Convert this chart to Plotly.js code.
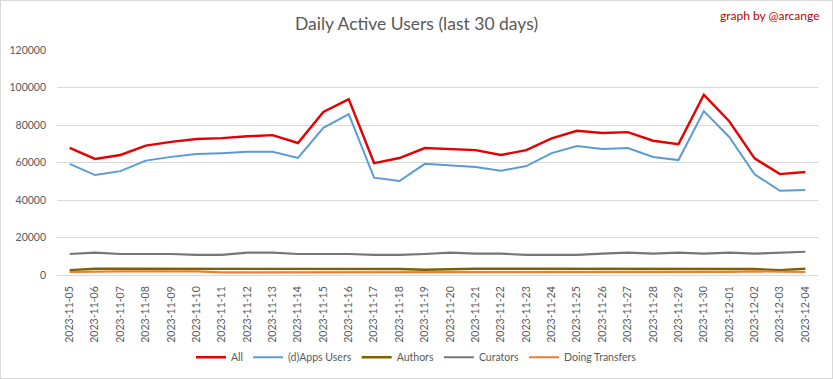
<!DOCTYPE html>
<html>
<head>
<meta charset="utf-8">
<script src="https://cdn.plot.ly/plotly-3.0.1.min.js"></script>
<style>
html,body{margin:0;padding:0;background:#fff;}
#chart{width:833px;height:379px;box-sizing:border-box;border:1px solid #d9d9d9;}
</style>
</head>
<body>
<div id="chart"></div>
<script>
const dates = ["2023-11-05","2023-11-06","2023-11-07","2023-11-08","2023-11-09","2023-11-10","2023-11-11","2023-11-12","2023-11-13","2023-11-14","2023-11-15","2023-11-16","2023-11-17","2023-11-18","2023-11-19","2023-11-20","2023-11-21","2023-11-22","2023-11-23","2023-11-24","2023-11-25","2023-11-26","2023-11-27","2023-11-28","2023-11-29","2023-11-30","2023-12-01","2023-12-02","2023-12-03","2023-12-04"];
const allUsers = [67800,61900,64000,69000,71000,72500,73000,74000,74600,70400,87000,93800,59700,62400,67700,67200,66600,64000,66600,72900,76900,75700,76200,71600,69800,96100,82000,62200,53800,54900];
const appsUsers = [59300,53300,55400,61000,63000,64500,65000,65700,65700,62400,78500,85800,51900,50100,59300,58600,57600,55600,58100,65000,68800,67200,67700,62900,61300,87400,73600,53700,44900,45300];
const authors = [2600,3300,3300,3300,3300,3300,3300,3300,3300,3300,3300,3300,3300,3200,2800,3200,3300,3300,3300,3300,2900,3000,3300,3300,3300,3300,3300,3200,2600,3300];
const curators = [11200,11900,11200,11200,11200,10700,10700,11900,11900,11200,11200,11200,10700,10700,11200,11900,11400,11400,10700,10700,10700,11400,11900,11400,11900,11400,11900,11400,11900,12400];
const transfers = [1600,1900,1900,1900,1900,1900,1400,1400,1700,1400,1700,1400,1700,1400,1400,1700,1700,1400,1400,1400,1400,1400,1700,1400,1400,1400,1700,1900,1600,1600];

const seriesNames = ["All","(d)Apps Users","Authors","Curators","Doing Transfers"];
const seriesData = [allUsers, appsUsers, authors, curators, transfers];
const seriesColors = ["#e60000","#5b9bd5","#7f6000","#767676","#ed7d31"];
const seriesWidths = [2.4,2,2.4,2.2,2.2];

const traces = seriesNames.map((n,i)=>({
  type:"scatter", mode:"lines", name:n, x:dates, y:seriesData[i],
  line:{color:seriesColors[i], width:seriesWidths[i]}
}));

const fam = "Lato, 'Open Sans', sans-serif";
const layout = {
  width:831, height:377,
  margin:{l:56, r:14, t:49, b:103, autoexpand:false},
  paper_bgcolor:"#fff", plot_bgcolor:"#fff",
  font:{family:fam, size:10.5, color:"#595959"},
  title:{text:"Daily Active Users (last 30 days)", font:{family:fam, size:17.5, color:"#595959"}, x:0.5, xanchor:"center", xref:"container", y:0.94, yanchor:"middle", yref:"container"},
  showlegend:true,
  legend:{orientation:"h", x:0.5, xanchor:"center", xref:"container", y:0.055, yanchor:"middle", yref:"container", font:{family:fam, size:10.5, color:"#595959"}, itemwidth:30, tracegroupgap:0},
  xaxis:{type:"category", range:[-0.5,29.5], tickangle:-90, showgrid:false, showline:true, linecolor:"#d9d9d9", linewidth:1, ticks:"", tickfont:{family:fam, size:10.5, color:"#595959"}, ticklabelstandoff:6, zeroline:false, automargin:false},
  yaxis:{range:[0,120000], dtick:20000, tick0:0, showgrid:true, gridcolor:"#d9d9d9", gridwidth:1, zeroline:false, showline:false, ticks:"", tickformat:"d", tickfont:{family:fam, size:10.5, color:"#595959"}, ticklabelstandoff:10, automargin:false},
  annotations:[{text:"graph by @arcange", xref:"paper", yref:"paper", x:1.005, xanchor:"right", y:1.155, yanchor:"middle", showarrow:false, font:{family:fam, size:12, color:"#c00000"}}]
};
Plotly.newPlot("chart", traces, layout, {displayModeBar:false, staticPlot:true});
</script>
</body>
</html>
